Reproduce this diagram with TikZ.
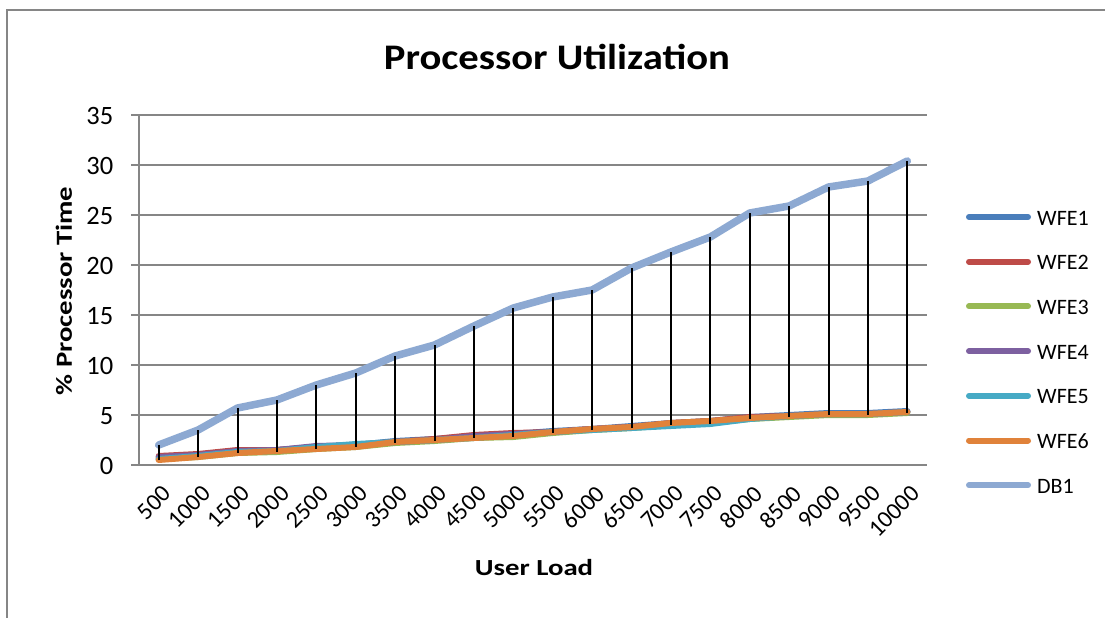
\documentclass[tikz,border=0pt]{standalone}
\usepackage{fontspec}
\setmainfont{Carlito}
\definecolor{gridgray}{HTML}{868686}
\definecolor{cWFEa}{HTML}{4A7EBB}
\definecolor{cWFEb}{HTML}{BE4B48}
\definecolor{cWFEc}{HTML}{98B954}
\definecolor{cWFEd}{HTML}{7D60A0}
\definecolor{cWFEe}{HTML}{46AAC5}
\definecolor{cWFEf}{HTML}{E0823A}
\definecolor{cDB}{HTML}{8DA9D2}
\tikzset{
  grid line/.style={draw=gridgray, line width=1.6pt},
  series/.style={line width=6pt, line cap=round, line join=round},
  dbseries/.style={line width=7.5pt, line cap=round, line join=round, draw=cDB},
  hiloline/.style={draw=black, line width=2pt},
  xticklabel/.style={font=\fontsize{24}{28}\selectfont, inner sep=1pt},
  yticklabel/.style={font=\fontsize{26.5}{30}\selectfont, inner sep=1pt},
  axistitle/.style={font=\fontsize{23}{27}\selectfont\bfseries},
  legendtext/.style={font=\fontsize{22}{26}\selectfont, anchor=west, inner sep=0pt},
}
\begin{document}
\begin{tikzpicture}[x=1pt, y=-1pt]
\useasboundingbox (0,0) rectangle (1105,618);
\fill[white] (0,0) rectangle (1105,618);
% chart frame
\draw[draw=gridgray, line width=1.5pt] (7,625) -- (7,10) -- (1112,10);

% title
\node[font=\fontsize{36}{41}\selectfont\bfseries, xscale=1.13] (title) at (557,57) {Processor Utilization};

% value axis, gridlines and labels
\foreach \v in {0,5,...,35} {
  \draw[grid line] (131,465-10*\v) -- (927,465-10*\v);
  \node[yticklabel, anchor=east] (ylab\v) at (114.5,466-10*\v) {\v};
}
\draw[grid line] (139,115) -- (139,465);

% axis titles
\node[axistitle, rotate=90, xscale=1.25] (ytitle) at (64,291) {\% Processor Time};
\node[axistitle, xscale=1.25] (xtitle) at (534,568) {User Load};

% data area: x in categories, y in percent
\begin{scope}[shift={(158.7,465)}, x=39.4pt, y=10pt]
  \foreach \t [count=\i from 0] in {500,1000,...,10000}
    \node[xticklabel, rotate=45, anchor=north east] (xlab\i) at (\i+0.07,-1.75) {\t};

  \draw[series, draw=cWFEa] plot coordinates {(0,0.7) (1,1.0) (2,1.4) (3,1.5) (4,1.8) (5,2.0) (6,2.4) (7,2.6) (8,2.9) (9,3.1) (10,3.4) (11,3.6) (12,3.9) (13,4.2) (14,4.4) (15,4.8) (16,5.0) (17,5.2) (18,5.2) (19,5.4)};
  \draw[series, draw=cWFEb] plot coordinates {(0,0.9) (1,1.1) (2,1.5) (3,1.5) (4,1.8) (5,2.0) (6,2.3) (7,2.6) (8,3.0) (9,3.2) (10,3.3) (11,3.6) (12,3.8) (13,4.2) (14,4.4) (15,4.8) (16,4.9) (17,5.1) (18,5.1) (19,5.3)};
  \draw[series, draw=cWFEc] plot coordinates {(0,0.6) (1,0.8) (2,1.2) (3,1.3) (4,1.6) (5,1.8) (6,2.2) (7,2.4) (8,2.7) (9,2.8) (10,3.2) (11,3.5) (12,3.7) (13,4.0) (14,4.2) (15,4.6) (16,4.8) (17,5.0) (18,5.0) (19,5.2)};
  \draw[series, draw=cWFEd] plot coordinates {(0,0.8) (1,1.0) (2,1.4) (3,1.5) (4,1.9) (5,2.0) (6,2.3) (7,2.5) (8,2.9) (9,3.1) (10,3.3) (11,3.6) (12,3.8) (13,4.1) (14,4.3) (15,4.7) (16,4.9) (17,5.1) (18,5.1) (19,5.3)};
  \draw[series, draw=cWFEe] plot coordinates {(0,0.6) (1,0.9) (2,1.3) (3,1.4) (4,1.8) (5,2.1) (6,2.3) (7,2.5) (8,2.7) (9,3.0) (10,3.3) (11,3.5) (12,3.7) (13,3.9) (14,4.1) (15,4.6) (16,4.9) (17,5.1) (18,5.1) (19,5.3)};
  \draw[series, draw=cWFEf] plot coordinates {(0,0.5) (1,0.8) (2,1.2) (3,1.4) (4,1.6) (5,1.8) (6,2.3) (7,2.5) (8,2.7) (9,2.9) (10,3.3) (11,3.6) (12,3.8) (13,4.2) (14,4.4) (15,4.7) (16,4.9) (17,5.1) (18,5.1) (19,5.3)};
  \draw[dbseries] plot coordinates {(0,2.0) (1,3.5) (2,5.7) (3,6.5) (4,8.0) (5,9.2) (6,10.9) (7,12.0) (8,13.9) (9,15.7) (10,16.8) (11,17.5) (12,19.7) (13,21.3) (14,22.8) (15,25.2) (16,25.9) (17,27.8) (18,28.4) (19,30.4)};

  % high-low lines between the top and bottom series
  \foreach \i/\hi/\lo in {0/2.0/0.5, 1/3.5/0.8, 2/5.7/1.2, 3/6.5/1.3, 4/8.0/1.6, 5/9.2/1.8, 6/10.9/2.2, 7/12.0/2.4, 8/13.9/2.7, 9/15.7/2.8, 10/16.8/3.2, 11/17.5/3.5, 12/19.7/3.7, 13/21.3/4.0, 14/22.8/4.1, 15/25.2/4.6, 16/25.9/4.8, 17/27.8/5.0, 18/28.4/5.0, 19/30.4/5.2}
    \draw[hiloline] (\i,\hi) -- (\i,\lo);
\end{scope}

% legend
\foreach \c/\name [count=\k from 0] in {cWFEa/WFE1, cWFEb/WFE2, cWFEc/WFE3, cWFEd/WFE4, cWFEe/WFE5, cWFEf/WFE6, cDB/DB1} {
  \draw[series, draw=\c] (969,217+44.7*\k) -- (1028,217+44.7*\k);
  \node[legendtext] (leg\k) at (1037,218+44.7*\k) {\name};
}
\end{tikzpicture}
\end{document}
